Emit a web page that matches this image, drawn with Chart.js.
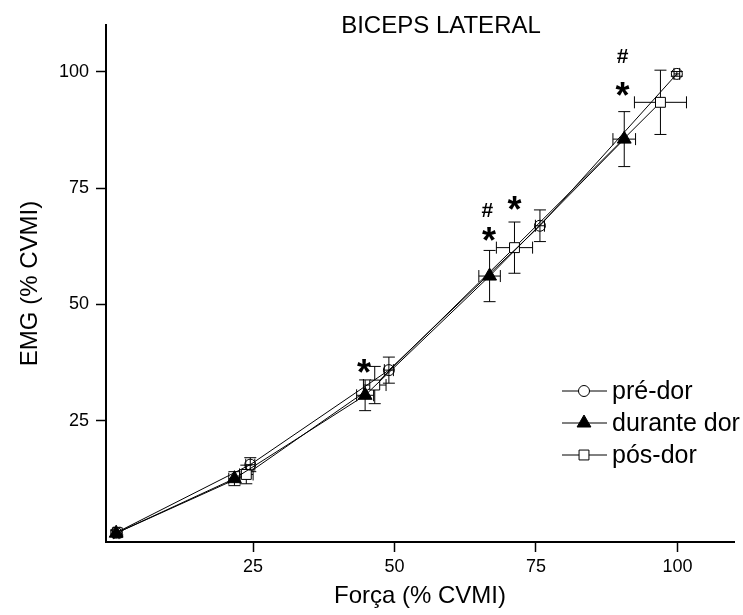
<!DOCTYPE html>
<html><head><meta charset="utf-8">
<script src="https://cdn.jsdelivr.net/npm/chart.js@4/dist/chart.umd.min.js"></script>
<style>html,body{margin:0;padding:0;background:#fff;overflow:hidden}#wrap{width:743px;height:615px;position:relative}</style>
</head><body><div id="wrap"><canvas id="c" width="743" height="615"></canvas></div>
<script>
// ---- data ----
const titleText = 'BICEPS LATERAL';
const xTitle = 'Força (% CVMI)';
const yTitle = 'EMG (% CVMI)';
const tickValues = [25, 50, 75, 100];
const seriesNames = ['pré-dor', 'durante dor', 'pós-dor'];

const xPre = [0.8, 24.5, 49.0, 75.7, 99.9];
const yPre = [1.0, 15.6, 35.9, 66.9, 99.5];
const xPreErr = [0.5, 0.8, 0.8, 0.8, 0.5];
const yPreErr = [0.6, 1.5, 2.8, 3.4, 0.5];

const xDur = [0.8, 21.7, 44.8, 66.8, 90.6];
const yDur = [0.9, 12.6, 30.5, 56.1, 85.5];
const xDurErr = [0.5, 1.0, 1.5, 1.9, 2.0];
const yDurErr = [0.5, 1.5, 3.3, 5.5, 5.9];

const xPos = [1.0, 23.8, 46.5, 71.2, 97.0];
const yPos = [1.0, 13.5, 32.7, 62.2, 93.4];
const xPosErr = [0.5, 1.2, 2.0, 3.2, 4.6];
const yPosErr = [0.5, 2.0, 4.0, 5.5, 6.9];

const annotText = ['*', '#', '*', '*', '#', '*'];
const annotX = [44.6, 66.4, 66.7, 71.2, 90.3, 90.3];
const annotY = [36.8, 70.2, 65.1, 71.7, 103.3, 96.3];

// ---- build ----
const FONT = '"Liberation Sans", Arial, sans-serif';
const pts = (xs, ys) => xs.map((x, i) => ({x: x, y: ys[i]}));
const errs = [
  {xs: xPre, ys: yPre, xe: xPreErr, ye: yPreErr},
  {xs: xDur, ys: yDur, xe: xDurErr, ye: yDurErr},
  {xs: xPos, ys: yPos, xe: xPosErr, ye: yPosErr}
];
const styles = [
  {pointStyle: 'circle', radius: 5.5, bg: 'rgba(0,0,0,0)', legendBg: '#fff'},
  {pointStyle: 'triangle', radius: 8, bg: '#000', legendBg: '#000'},
  {pointStyle: 'rect', radius: 7, bg: '#fff', legendBg: '#fff'}
];
const seriesData = [pts(xPre, yPre), pts(xDur, yDur), pts(xPos, yPos)];

const datasets = seriesData.map((d, i) => ({
  label: seriesNames[i],
  data: d,
  showLine: true,
  borderColor: '#000',
  borderWidth: 1,
  tension: 0,
  pointStyle: styles[i].pointStyle,
  pointRadius: styles[i].radius,
  pointHoverRadius: styles[i].radius,
  pointBackgroundColor: styles[i].bg,
  pointBorderColor: '#000',
  pointBorderWidth: 1
}));

const errorBars = {
  id: 'errorBars',
  beforeDatasetsDraw(chart) {
    const ctx = chart.ctx, xs = chart.scales.x, ys = chart.scales.y;
    ctx.save();
    ctx.strokeStyle = '#000';
    ctx.lineWidth = 1;
    const cap = 6;
    errs.forEach(e => {
      e.xs.forEach((xv, i) => {
        const px = xs.getPixelForValue(xv), py = ys.getPixelForValue(e.ys[i]);
        const y1 = ys.getPixelForValue(e.ys[i] + e.ye[i]), y2 = ys.getPixelForValue(e.ys[i] - e.ye[i]);
        const x1 = xs.getPixelForValue(xv - e.xe[i]), x2 = xs.getPixelForValue(xv + e.xe[i]);
        ctx.beginPath();
        ctx.moveTo(px, y1); ctx.lineTo(px, y2);
        ctx.moveTo(px - cap, y1); ctx.lineTo(px + cap, y1);
        ctx.moveTo(px - cap, y2); ctx.lineTo(px + cap, y2);
        ctx.moveTo(x1, py); ctx.lineTo(x2, py);
        ctx.moveTo(x1, py - cap); ctx.lineTo(x1, py + cap);
        ctx.moveTo(x2, py - cap); ctx.lineTo(x2, py + cap);
        ctx.stroke();
      });
    });
    ctx.restore();
  }
};

const extras = {
  id: 'extras',
  afterDraw(chart) {
    const ctx = chart.ctx, xs = chart.scales.x, ys = chart.scales.y;
    ctx.save();
    ctx.fillStyle = '#000';
    // title
    ctx.font = '24px ' + FONT;
    ctx.textAlign = 'center';
    ctx.textBaseline = 'middle';
    ctx.fillText(titleText, 441, 26);
    // annotations
    annotText.forEach((t, i) => {
      const px = xs.getPixelForValue(annotX[i]), py = ys.getPixelForValue(annotY[i]);
      ctx.font = (t === '*' ? 'bold 36px ' : 'bold 21px ') + FONT;
      ctx.textBaseline = 'alphabetic';
      const m = ctx.measureText(t);
      ctx.fillText(t, px, py + (m.actualBoundingBoxAscent - m.actualBoundingBoxDescent) / 2);
    });
    // legend
    const rowsY = [391, 423, 455];
    ctx.font = '25px ' + FONT;
    ctx.textAlign = 'left';
    ctx.textBaseline = 'middle';
    seriesNames.forEach((n, i) => {
      const y = rowsY[i];
      ctx.strokeStyle = '#000';
      ctx.lineWidth = 1;
      ctx.beginPath(); ctx.moveTo(562, y); ctx.lineTo(607, y); ctx.stroke();
      ctx.fillStyle = styles[i].legendBg;
      Chart.helpers.drawPoint(ctx, {pointStyle: styles[i].pointStyle, radius: styles[i].radius, rotation: 0, borderWidth: 1}, 584, y);
      ctx.fillStyle = '#000';
      ctx.fillText(n, 612, y + 1);
    });
    ctx.restore();
  }
};

new Chart(document.getElementById('c'), {
  type: 'scatter',
  data: {datasets: datasets},
  plugins: [errorBars, extras],
  options: {
    responsive: false,
    animation: false,
    devicePixelRatio: 1,
    layout: {padding: {top: 25, right: 0, left: 0, bottom: 0}},
    plugins: {legend: {display: false}, tooltip: {enabled: false}, title: {display: false}},
    scales: {
      x: {
        type: 'linear', min: -1, max: 110,
        afterBuildTicks: s => { s.ticks = tickValues.map(v => ({value: v})); },
        afterFit: s => { s.height = 73; s.paddingLeft = 0; s.paddingRight = 0; },
        ticks: {color: '#000', font: {size: 18, family: FONT}, padding: 4, maxRotation: 0},
        grid: {display: true, drawOnChartArea: false, drawTicks: true, tickLength: 10, tickWidth: 1.5, tickColor: '#000'},
        border: {display: true, color: '#000', width: 2},
        title: {display: true, text: xTitle, color: '#000', font: {size: 24, family: FONT}, padding: {top: 0, bottom: 4}}
      },
      y: {
        type: 'linear', min: -1, max: 110,
        afterBuildTicks: s => { s.ticks = tickValues.map(v => ({value: v})); },
        afterFit: s => { s.width = 106; s.paddingTop = 0; s.paddingBottom = 0; },
        ticks: {color: '#000', font: {size: 18, family: FONT}, padding: 7},
        grid: {display: true, drawOnChartArea: false, drawTicks: true, tickLength: 10, tickWidth: 1.5, tickColor: '#000'},
        border: {display: true, color: '#000', width: 2},
        title: {display: true, text: yTitle, color: '#000', font: {size: 24, family: FONT}, padding: {top: 16, bottom: 0}}
      }
    }
  }
});
</script>
</body></html>
